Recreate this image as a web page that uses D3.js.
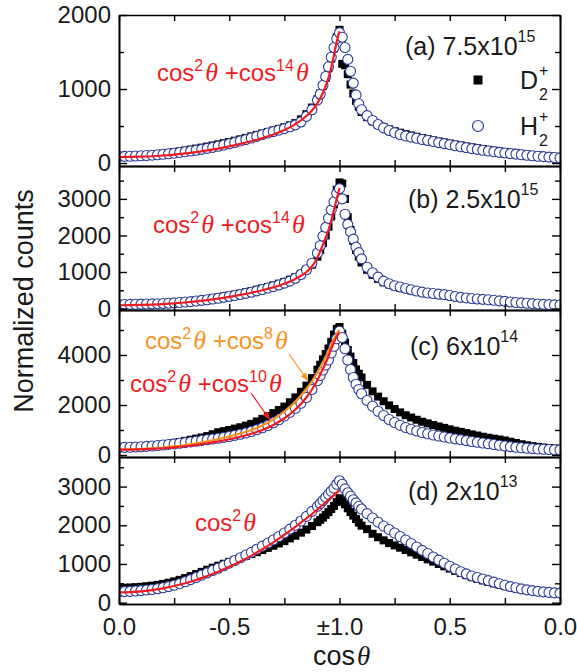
<!DOCTYPE html>
<html>
<head>
<meta charset="utf-8">
<script src="https://cdn.jsdelivr.net/npm/d3@7"></script>
<style>
  body { margin: 0; background: #fff; }
  svg { display: block; }
</style>
</head>
<body>
<svg id="chart" width="577" height="672"></svg>
<script>
// Sample positions along the folded axis: 0 = cosθ 0 (left), 1 = cosθ ±1, 2 = cosθ 0 (right).
// Finer spacing around the ±1 peak.
const pos = [
  ...d3.range(0, 0.89, 0.025),
  ...d3.range(0.9, 1.1001, 0.0125),
  ...d3.range(1.125, 2.0001, 0.025)
];
// Positions of the fitted curves (left wing only)
const fitPos = [0, .05, .1, .15, .2, .25, .3, .35, .4, .45, .5, .55, .6, .65, .7, .75, .8, .85,
                .875, .9, .925, .95, .9625, .975, .9875, 1.0];

// (a) 7.5x10^15
const h2a = [90, 90, 92, 95, 98, 102, 106, 112, 118, 125, 133, 142, 152, 162, 173, 185, 198, 212, 227, 243,
  260, 278, 297, 317, 338, 360, 383, 405, 425, 445, 465, 490, 515, 555, 630, 720,
  850, 930, 1050, 1170, 1300, 1430, 1560, 1680, 1760, 1700, 1560, 1400, 1240, 1080, 920, 800, 720,
  640, 575, 520, 475, 440, 410, 385, 365, 350, 335, 318, 305, 290, 276, 262, 248, 233, 220, 207, 195,
  184, 172, 162, 152, 144, 136, 128, 120, 112, 105, 98, 92, 86, 80, 75, 70];
const d2a = [85, 88, 92, 96, 100, 106, 112, 120, 128, 137, 147, 158, 170, 182, 195, 208, 222, 237, 252, 268,
  285, 302, 320, 340, 360, 380, 400, 420, 440, 460, 485, 510, 540, 590, 660, 750,
  860, 940, 1040, 1150, 1280, 1410, 1550, 1700, 1800, 1340, 1320, 1200, 1060, 940, 840, 760, 690,
  620, 565, 520, 485, 455, 430, 410, 390, 372, 355, 338, 322, 307, 292, 278, 264, 250, 237, 224, 212,
  200, 189, 178, 168, 158, 149, 140, 132, 124, 116, 109, 102, 96, 90, 85, 80];
const fitA = [80, 82, 86, 92, 102, 114, 130, 148, 170, 195, 225, 258, 295, 337, 385, 445, 525, 635,
  710, 810, 950, 1150, 1290, 1460, 1640, 1780];

// (b) 2.5x10^15
const h2b = [110, 112, 114, 117, 120, 124, 128, 133, 139, 146, 155, 165, 177, 190, 205, 222, 240, 260, 282, 305,
  330, 357, 385, 415, 447, 482, 520, 560, 600, 645, 695, 750, 830, 930, 1060, 1240,
  1520, 1720, 1980, 2220, 2470, 2700, 2920, 3150, 3280, 3000, 2580, 2300, 2100, 1900, 1680, 1530, 1360,
  1130, 980, 860, 750, 680, 625, 590, 550, 515, 480, 450, 425, 410, 395, 380, 355, 330, 305, 290, 275,
  262, 250, 240, 225, 210, 195, 180, 165, 155, 145, 135, 125, 115, 108, 100, 95];
const d2b = [115, 117, 119, 122, 126, 130, 135, 141, 148, 156, 166, 177, 190, 204, 220, 238, 258, 280, 303, 328,
  354, 382, 412, 444, 478, 514, 552, 592, 634, 680, 730, 790, 860, 950, 1060, 1200,
  1420, 1600, 1790, 2000, 2240, 2520, 2850, 3250, 3450, 3420, 3000, 2500, 2150, 1850, 1600, 1420, 1260,
  1060, 920, 810, 720, 660, 610, 570, 535, 500, 470, 445, 420, 400, 380, 360, 340, 320, 300, 285, 270,
  258, 246, 235, 222, 208, 195, 182, 170, 160, 150, 140, 130, 122, 115, 108, 102];
const fitB = [90, 92, 98, 108, 122, 140, 165, 195, 230, 272, 320, 373, 432, 500, 580, 680, 810, 1000,
  1150, 1400, 1750, 2150, 2400, 2700, 3000, 3300];

// (c) 6x10^14
const h2c = [300, 305, 310, 318, 330, 344, 360, 378, 400, 422, 445, 470, 495, 522, 550, 580, 610, 640, 670, 705,
  740, 785, 830, 880, 940, 1010, 1090, 1180, 1290, 1410, 1560, 1710, 1870, 2070, 2300, 2620,
  2980, 3180, 3400, 3600, 3800, 4080, 4350, 4650, 4950, 4700, 4250, 3800, 3420, 3100, 2830, 2620, 2450,
  2180, 1950, 1750, 1580, 1420, 1300, 1190, 1100, 1030, 960, 900, 850, 800, 760, 720, 680, 645, 610, 575, 540,
  510, 480, 450, 420, 390, 360, 335, 310, 290, 270, 255, 240, 228, 218, 210, 200];
const d2c = [310, 315, 320, 328, 340, 355, 372, 392, 415, 445, 480, 520, 565, 610, 655, 700, 755, 830, 910, 955,
  1000, 1055, 1110, 1175, 1245, 1340, 1445, 1555, 1675, 1800, 1935, 2110, 2305, 2530, 2775, 3075,
  3415, 3610, 3825, 4040, 4260, 4530, 4815, 5050, 5120, 4850, 4500, 4200, 3935, 3680, 3425, 3250, 3100,
  2805, 2545, 2335, 2150, 1985, 1840, 1705, 1590, 1500, 1410, 1330, 1265, 1200, 1140, 1085, 1025, 970, 925, 875, 825,
  780, 730, 690, 655, 620, 580, 530, 480, 430, 390, 355, 325, 300, 280, 262, 248];
const fitC8 = [220, 225, 240, 265, 300, 345, 400, 470, 550, 640, 740, 860, 1000, 1180, 1420, 1740, 2140, 2650,
  2950, 3300, 3700, 4150, 4400, 4650, 4850, 5000];
const fitC10 = [215, 218, 228, 245, 270, 305, 350, 405, 470, 545, 630, 730, 850, 1000, 1200, 1470, 1820, 2300,
  2620, 3000, 3450, 3950, 4250, 4500, 4750, 4900];

// (d) 2x10^13
const h2d = [280, 285, 292, 300, 312, 325, 340, 360, 385, 415, 450, 490, 540, 595, 650, 710, 770, 830, 890, 955,
  1020, 1090, 1160, 1230, 1300, 1380, 1460, 1540, 1620, 1710, 1800, 1900, 2000, 2110, 2230, 2360,
  2490, 2560, 2640, 2720, 2800, 2880, 2960, 3060, 3150, 3060, 2940, 2840, 2750, 2660, 2580, 2490, 2420,
  2300, 2190, 2080, 1980, 1890, 1800, 1710, 1620, 1530, 1440, 1350, 1270, 1180, 1100, 1020, 940, 870, 800, 745, 690,
  650, 610, 570, 530, 490, 450, 415, 385, 355, 330, 310, 292, 278, 265, 252, 245];
const d2d = [380, 385, 392, 400, 410, 425, 440, 460, 485, 515, 550, 590, 635, 685, 740, 795, 850, 905, 955, 1005,
  1055, 1105, 1155, 1205, 1255, 1305, 1360, 1415, 1470, 1530, 1590, 1660, 1730, 1810, 1890, 1980,
  2080, 2140, 2200, 2270, 2340, 2420, 2500, 2600, 2700, 2640, 2540, 2440, 2340, 2250, 2160, 2070, 1990,
  1900, 1780, 1690, 1610, 1540, 1480, 1420, 1360, 1300, 1240, 1180, 1120, 1060, 1000, 940, 880, 820, 765, 710, 660,
  615, 575, 535, 500, 465, 430, 400, 372, 348, 325, 308, 295, 285, 277, 270, 265];
const fitD = [265, 272, 290, 325, 370, 430, 500, 585, 690, 800, 925, 1065, 1215, 1380, 1560, 1755, 1960, 2180,
  2290, 2410, 2530, 2655, 2720, 2780, 2845, 2910];

// Axis ticks
const xTickPos = [0, 0.5, 1, 1.5, 2];
const xTickLabels = ['0.0', '-0.5', '\u00b11.0', '0.5', '0.0'];
const xMinorPos = [0.25, 0.75, 1.25, 1.75];

const SANS = '"Liberation Sans", Arial, Helvetica, sans-serif';
const SERIF = '"Liberation Serif", "Times New Roman", serif';
const RED = '#ed1c24', ORANGE = '#f7931e', BLUE = '#2b3c96';

const svg = d3.select('#chart');
const x = d3.scaleLinear().domain([0, 2]).range([119, 560]);

const panels = [
  { key: 'a', h2: h2a, d2: d2a, fits: [{ v: fitA, c: RED }], dom: [-40, 2000], top: 15, bottom: 166,
    major: [0, 1000, 2000], minor: [500, 1500] },
  { key: 'b', h2: h2b, d2: d2b, fits: [{ v: fitB, c: RED }], dom: [-40, 3900], top: 166, bottom: 310,
    major: [0, 1000, 2000, 3000], minor: [500, 1500, 2500, 3500] },
  { key: 'c', h2: h2c, d2: d2c, fits: [{ v: fitC8, c: ORANGE }, { v: fitC10, c: RED }], dom: [-80, 5800], top: 310, bottom: 457,
    major: [0, 2000, 4000], minor: [1000, 3000, 5000] },
  { key: 'd', h2: h2d, d2: d2d, fits: [{ v: fitD, c: RED }], dom: [-35, 3765], top: 457, bottom: 604,
    major: [0, 1000, 2000, 3000], minor: [500, 1500, 2500, 3500] }
];

const defs = svg.append('defs');

function styleAxis(g) {
  g.selectAll('path.domain').attr('stroke', '#000').attr('stroke-width', 1.6);
  g.selectAll('.tick line').attr('stroke', '#000').attr('stroke-width', 1.4);
  g.selectAll('.tick text').attr('fill', '#1a1a1a')
    .style('font-family', SANS).style('font-size', '24px');
}

panels.forEach((p, i) => {
  const y = d3.scaleLinear().domain(p.dom).range([p.bottom, p.top]);
  const clipId = 'clip-' + p.key;
  defs.append('clipPath').attr('id', clipId)
    .append('rect').attr('x', x(0)).attr('y', p.top).attr('width', x(2) - x(0)).attr('height', p.bottom - p.top);

  const plot = svg.append('g').attr('clip-path', `url(#${clipId})`);

  // D2+ : filled black squares
  const sq = 8;
  plot.append('g').selectAll('rect').data(d3.zip(pos, p.d2)).join('rect')
    .attr('x', d => x(d[0]) - sq / 2).attr('y', d => y(d[1]) - sq / 2)
    .attr('width', sq).attr('height', sq).attr('fill', '#000');

  // H2+ : open blue circles
  plot.append('g').selectAll('circle').data(d3.zip(pos, p.h2)).join('circle')
    .attr('cx', d => x(d[0])).attr('cy', d => y(d[1])).attr('r', 5)
    .attr('fill', '#fff').attr('stroke', BLUE).attr('stroke-width', 1.1);

  // fitted curves
  const line = d3.line().x(d => x(d[0])).y(d => y(d[1])).curve(d3.curveMonotoneX);
  p.fits.forEach(f => {
    plot.append('path').datum(d3.zip(fitPos, f.v)).attr('d', line)
      .attr('fill', 'none').attr('stroke', f.c).attr('stroke-width', 2.2);
  });

  // axes, ticks pointing inward
  const gl = svg.append('g').attr('transform', `translate(${x(0)},0)`)
    .call(d3.axisLeft(y).tickValues(p.major).tickSizeInner(-8).tickSizeOuter(0).tickPadding(8).tickFormat(d3.format('d')));
  styleAxis(gl);
  const glm = svg.append('g').attr('transform', `translate(${x(0)},0)`)
    .call(d3.axisLeft(y).tickValues(p.minor).tickSizeInner(-5).tickSizeOuter(0).tickFormat(''));
  styleAxis(glm);
  const gr = svg.append('g').attr('transform', `translate(${x(2)},0)`)
    .call(d3.axisRight(y).tickValues(p.major).tickSizeInner(-8).tickSizeOuter(0).tickFormat(''));
  styleAxis(gr);
  const grm = svg.append('g').attr('transform', `translate(${x(2)},0)`)
    .call(d3.axisRight(y).tickValues(p.minor).tickSizeInner(-5).tickSizeOuter(0).tickFormat(''));
  styleAxis(grm);
  const gt = svg.append('g').attr('transform', `translate(0,${p.top})`)
    .call(d3.axisTop(x).tickValues(xTickPos.concat(xMinorPos)).tickSizeInner(-6).tickSizeOuter(0).tickFormat(''));
  styleAxis(gt);
  const isLast = i === panels.length - 1;
  const gb = svg.append('g').attr('transform', `translate(0,${p.bottom})`)
    .call(d3.axisBottom(x).tickValues(xTickPos).tickSizeInner(-6).tickSizeOuter(0).tickPadding(14)
      .tickFormat(isLast ? (d, k) => xTickLabels[k] : ''));
  styleAxis(gb);
  const gbm = svg.append('g').attr('transform', `translate(0,${p.bottom})`)
    .call(d3.axisBottom(x).tickValues(xMinorPos).tickSizeInner(-6).tickSizeOuter(0).tickFormat(''));
  styleAxis(gbm);
});

// formula labels: pieces are [text, kind] with kind 'n' normal, 'sup' superscript, 'th' italic theta
function formula(xp, yp, color, pieces) {
  const t = svg.append('text').attr('x', xp).attr('y', yp).attr('fill', color)
    .style('font-family', SANS).style('font-size', '24px');
  let shift = 0;
  pieces.forEach(([s, kind]) => {
    const ts = t.append('tspan').text(s);
    const target = kind === 'sup' ? -10 : 0;
    ts.attr('dy', target - shift);
    shift = target;
    if (kind === 'sup') ts.style('font-size', '16px');
    if (kind === 'th') ts.attr('dx', 2).style('font-family', SERIF).style('font-style', 'italic').style('font-size', '26px');
  });
}
const f14 = [['cos', 'n'], ['2', 'sup'], ['\u03b8', 'th'], [' +cos', 'n'], ['14', 'sup'], ['\u03b8', 'th']];
formula(157, 81, RED, f14);
formula(153, 233, RED, f14);
formula(145, 349, ORANGE, [['cos', 'n'], ['2', 'sup'], ['\u03b8', 'th'], [' +cos', 'n'], ['8', 'sup'], ['\u03b8', 'th']]);
formula(130, 392, RED, [['cos', 'n'], ['2', 'sup'], ['\u03b8', 'th'], [' +cos', 'n'], ['10', 'sup'], ['\u03b8', 'th']]);
formula(195, 531, RED, [['cos', 'n'], ['2', 'sup'], ['\u03b8', 'th']]);

// arrows from the panel (c) labels to their curves
function arrow(x1, y1, x2, y2, color) {
  svg.append('line').attr('x1', x1).attr('y1', y1).attr('x2', x2).attr('y2', y2)
    .attr('stroke', color).attr('stroke-width', 1.2);
  const a = Math.atan2(y2 - y1, x2 - x1), L = 8, Wd = 3.2;
  const bx = x2 - L * Math.cos(a), by = y2 - L * Math.sin(a);
  const px = -Math.sin(a) * Wd, py = Math.cos(a) * Wd;
  svg.append('path').attr('d', `M${x2},${y2}L${bx + px},${by + py}L${bx - px},${by - py}Z`).attr('fill', color);
}
arrow(289, 354, 308, 381, ORANGE);
arrow(251, 393, 270, 420, RED);

// panel captions
function caption(xp, yp, main, sup) {
  const t = svg.append('text').attr('x', xp).attr('y', yp).attr('fill', '#1a1a1a')
    .style('font-family', SANS).style('font-size', '25px');
  t.append('tspan').text(main);
  t.append('tspan').attr('dy', -13).style('font-size', '16px').text(sup);
}
caption(405, 55, '(a) 7.5x10', '15');
caption(408, 208, '(b) 2.5x10', '15');
caption(410, 355, '(c) 6x10', '14');
caption(408, 500, '(d) 2x10', '13');

// legend
svg.append('rect').attr('x', 473.5).attr('y', 75.5).attr('width', 9).attr('height', 9).attr('fill', '#000');
svg.append('circle').attr('cx', 478).attr('cy', 126).attr('r', 5.5).attr('fill', '#fff')
  .attr('stroke', BLUE).attr('stroke-width', 1.2);
function ion(xp, yp, letter) {
  const st = s => s.attr('fill', '#1a1a1a').style('font-family', SANS);
  st(svg.append('text').attr('x', xp).attr('y', yp).style('font-size', '25px').text(letter));
  st(svg.append('text').attr('x', xp + 19).attr('y', yp + 11).style('font-size', '16px').text('2'));
  st(svg.append('text').attr('x', xp + 19).attr('y', yp - 13).style('font-size', '16px').text('+'));
}
ion(520, 89, 'D');
ion(520, 135, 'H');

// axis titles
const xt = svg.append('text').attr('x', 313).attr('y', 665).attr('fill', '#1a1a1a')
  .style('font-family', SANS).style('font-size', '27px');
xt.append('tspan').text('cos');
xt.append('tspan').attr('dx', 2).style('font-family', SERIF).style('font-style', 'italic').text('\u03b8');

svg.append('text').attr('transform', 'translate(33,301) rotate(-90)').attr('text-anchor', 'middle')
  .attr('fill', '#1a1a1a').style('font-family', SANS).style('font-size', '27px').text('Normalized counts');
</script>
</body>
</html>
